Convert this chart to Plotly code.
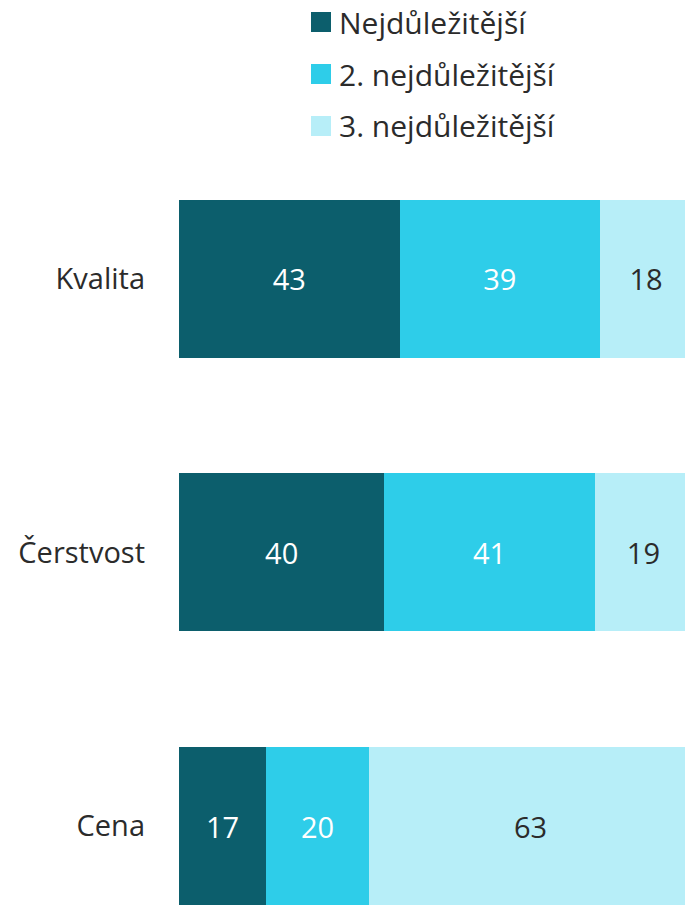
import plotly.graph_objects as go

categories = ["Kvalita", "Čerstvost", "Cena"]
series_names = ["Nejdůležitější", "2. nejdůležitější", "3. nejdůležitější"]
first = [43, 40, 17]
second = [39, 41, 20]
third = [18, 19, 63]
colors = ["#0C5E6C", "#2ECDE9", "#B7EEF8"]
text_colors = ["#FFFFFF", "#FFFFFF", "#2B2B2B"]

FONT = "Open Sans"
fig = go.Figure()
for name, vals, col, tcol in zip(series_names, [first, second, third], colors, text_colors):
    fig.add_trace(go.Bar(
        y=categories, x=vals, name=name, orientation="h",
        marker=dict(color=col, line=dict(width=0)),
        text=[str(v) for v in vals], textposition="inside",
        insidetextanchor="middle", constraintext="none",
        textfont=dict(family=FONT, size=29, color=tcol),
        showlegend=False, hoverinfo="skip",
    ))

# manual legend
shapes = []
annotations = []
for i, (name, col) in enumerate(zip(series_names, colors)):
    cy = 22 + 52 * i
    shapes.append(dict(type="rect", xref="paper", yref="paper",
                       x0=(311 - 179) / 506, x1=(331 - 179) / 506,
                       y0=(905 - (cy + 10)) / 745, y1=(905 - (cy - 10)) / 745,
                       fillcolor=col, line=dict(width=0)))
    annotations.append(dict(text=name, xref="paper", yref="paper",
                            x=(337 - 179) / 506, y=(905 - cy) / 745,
                            xanchor="left", yanchor="middle", showarrow=False,
                            font=dict(family=FONT, size=30, color="#2B2B2B")))

fig.update_layout(
    width=685, height=905,
    margin=dict(l=179, r=0, t=160, b=0),
    barmode="stack", bargap=0.423,
    plot_bgcolor="white", paper_bgcolor="white",
    font=dict(family=FONT, size=29, color="#2B2B2B"),
    xaxis=dict(range=[0, 98.6], visible=False, showgrid=False, zeroline=False),
    yaxis=dict(type="category", categoryorder="array", categoryarray=categories,
               range=[2.2885, -0.434], showgrid=False, zeroline=False,
               showline=False, ticks="", ticklabelstandoff=33,
               tickfont=dict(family=FONT, size=29, color="#2B2B2B")),
    shapes=shapes, annotations=annotations,
    uniformtext=dict(minsize=29, mode="show"),
    hovermode=False,
)

fig.write_html("out.html",
               config={"displayModeBar": False, "staticPlot": True},
               post_script="document.body.style.margin='0';document.body.style.overflow='hidden';")
